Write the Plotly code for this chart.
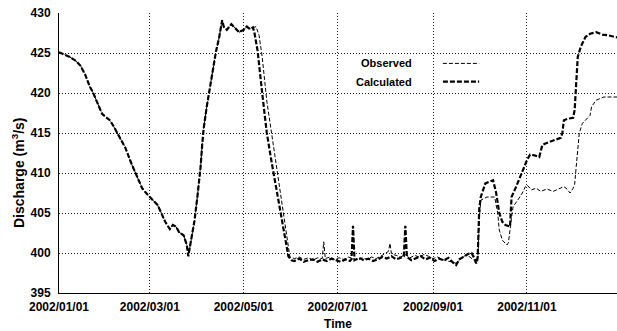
import plotly.graph_objects as go

# ---- data ----
shared_dates = ["2002-01-01", "2002-01-05", "2002-01-08", "2002-01-12", "2002-01-15", "2002-01-18",
                "2002-01-21", "2002-01-23", "2002-01-25", "2002-01-27", "2002-01-29", "2002-02-01",
                "2002-02-03", "2002-02-05", "2002-02-08", "2002-02-11", "2002-02-13", "2002-02-17",
                "2002-02-21", "2002-02-24", "2002-02-27", "2002-03-01", "2002-03-04", "2002-03-06",
                "2002-03-08", "2002-03-11", "2002-03-14", "2002-03-16", "2002-03-18", "2002-03-20",
                "2002-03-23", "2002-03-25", "2002-03-26", "2002-03-27", "2002-03-28", "2002-03-30",
                "2002-04-01", "2002-04-03", "2002-04-04", "2002-04-05", "2002-04-07", "2002-04-09",
                "2002-04-11", "2002-04-13", "2002-04-15", "2002-04-17", "2002-04-18", "2002-04-20",
                "2002-04-23", "2002-04-25", "2002-04-28", "2002-05-01", "2002-05-03", "2002-05-05",
                "2002-05-07"]
shared_vals = [425.1, 424.8, 424.5, 424.0, 423.4, 422.3,
               420.8, 420.1, 419.2, 418.3, 417.4, 416.9,
               416.6, 416.0, 414.9, 413.9, 413.2, 411.2,
               409.3, 408.1, 407.4, 407.0, 406.5, 406.0,
               405.2, 403.9, 403.0, 403.5, 403.3, 402.6,
               402.2, 401.0, 399.6, 400.8, 402.1, 404.0,
               407.2, 410.8, 413.5, 415.6, 418.3, 420.6,
               423.0, 425.2, 426.9, 429.1, 428.3, 427.9,
               428.6, 428.2, 427.6, 427.9, 428.3, 428.0,
               428.2]

obs_tail_dates = ["2002-05-09", "2002-05-11", "2002-05-13", "2002-05-16", "2002-05-19", "2002-05-22",
                  "2002-05-25", "2002-05-28", "2002-05-30", "2002-05-31", "2002-06-03", "2002-06-06",
                  "2002-06-09", "2002-06-12", "2002-06-15", "2002-06-18", "2002-06-21", "2002-06-22",
                  "2002-06-23", "2002-06-26", "2002-06-29", "2002-07-02", "2002-07-05", "2002-07-08",
                  "2002-07-11", "2002-07-14", "2002-07-17", "2002-07-20", "2002-07-23", "2002-07-26",
                  "2002-07-29", "2002-08-01", "2002-08-03", "2002-08-04", "2002-08-05", "2002-08-08",
                  "2002-08-11", "2002-08-14", "2002-08-17", "2002-08-20", "2002-08-23", "2002-08-26",
                  "2002-08-29", "2002-09-01", "2002-09-04", "2002-09-07", "2002-09-10", "2002-09-13",
                  "2002-09-16", "2002-09-19", "2002-09-22", "2002-09-25", "2002-09-28", "2002-09-30",
                  "2002-10-01", "2002-10-02", "2002-10-06", "2002-10-11", "2002-10-13", "2002-10-14",
                  "2002-10-16", "2002-10-19", "2002-10-20", "2002-10-22", "2002-10-23", "2002-10-26",
                  "2002-10-29", "2002-10-31", "2002-11-01", "2002-11-04", "2002-11-07", "2002-11-10",
                  "2002-11-14", "2002-11-18", "2002-11-22", "2002-11-25", "2002-11-27", "2002-11-29",
                  "2002-12-01", "2002-12-02", "2002-12-03", "2002-12-04", "2002-12-05", "2002-12-07",
                  "2002-12-10", "2002-12-12", "2002-12-13", "2002-12-16", "2002-12-21", "2002-12-31"]
obs_tail_vals = [428.3, 427.2, 424.5, 419.0, 415.0, 411.0,
                 407.0, 403.0, 400.5, 399.5, 399.3, 399.5,
                 399.2, 399.4, 399.1, 399.4, 399.3, 401.4,
                 399.3, 399.5, 399.2, 399.4, 399.2, 399.5,
                 399.3, 399.1, 399.4, 399.2, 399.5, 399.3,
                 399.6, 399.9, 400.2, 401.2, 399.9, 399.7,
                 399.5, 399.8, 399.4, 399.7, 399.5, 399.8,
                 399.6, 399.3, 399.5, 399.2, 399.0, 398.9,
                 398.7, 399.3, 399.7, 399.5, 399.0, 398.8,
                 404.0, 406.6, 407.0, 407.0, 405.0, 402.9,
                 401.6, 401.0, 401.3, 404.5, 405.8, 406.6,
                 407.5, 408.3, 408.5, 407.9, 408.1, 407.7,
                 408.0, 407.7, 408.1, 408.3, 408.0, 407.5,
                 408.1, 408.6, 410.8, 413.0, 415.0, 416.2,
                 416.8, 417.2, 418.3, 419.1, 419.5, 419.5]

calc_tail_dates = ["2002-05-08", "2002-05-10", "2002-05-13", "2002-05-16", "2002-05-19", "2002-05-22",
                   "2002-05-25", "2002-05-28", "2002-05-30", "2002-06-01", "2002-06-03", "2002-06-06",
                   "2002-06-09", "2002-06-12", "2002-06-15", "2002-06-18", "2002-06-21", "2002-06-24",
                   "2002-06-27", "2002-06-30", "2002-07-03", "2002-07-06", "2002-07-09", "2002-07-10",
                   "2002-07-11", "2002-07-12", "2002-07-15", "2002-07-18", "2002-07-21", "2002-07-24",
                   "2002-07-27", "2002-07-30", "2002-08-02", "2002-08-05", "2002-08-08", "2002-08-11",
                   "2002-08-13", "2002-08-14", "2002-08-15", "2002-08-18", "2002-08-21", "2002-08-24",
                   "2002-08-27", "2002-08-30", "2002-09-02", "2002-09-05", "2002-09-08", "2002-09-11",
                   "2002-09-14", "2002-09-16", "2002-09-18", "2002-09-21", "2002-09-24", "2002-09-26",
                   "2002-09-28", "2002-09-29", "2002-09-30", "2002-10-01", "2002-10-02", "2002-10-05",
                   "2002-10-08", "2002-10-10", "2002-10-12", "2002-10-14", "2002-10-16", "2002-10-18",
                   "2002-10-21", "2002-10-22", "2002-10-25", "2002-10-28", "2002-10-30", "2002-11-01",
                   "2002-11-03", "2002-11-06", "2002-11-09", "2002-11-11", "2002-11-13", "2002-11-16",
                   "2002-11-20", "2002-11-23", "2002-11-24", "2002-11-25", "2002-11-28", "2002-12-01",
                   "2002-12-02", "2002-12-03", "2002-12-04", "2002-12-06", "2002-12-09", "2002-12-12",
                   "2002-12-16", "2002-12-20", "2002-12-24", "2002-12-28", "2002-12-31"]
calc_tail_vals = [427.5, 425.3, 420.0, 415.0, 411.5, 408.3,
                  405.0, 401.8, 399.6, 399.1, 399.0, 399.3,
                  398.9, 399.1, 399.2, 398.9, 399.2, 399.0,
                  399.3, 399.1, 398.9, 399.2, 399.0, 399.2,
                  403.4, 399.1, 399.4, 399.1, 399.3, 399.0,
                  399.2, 399.5, 399.3, 399.6, 399.2, 399.4,
                  399.6, 403.4, 399.5, 399.1, 399.4, 399.6,
                  399.2, 399.4, 399.0, 399.3, 399.1, 399.4,
                  398.8, 398.5, 399.2, 399.6, 399.9, 400.0,
                  399.3, 398.7, 399.5, 405.5, 407.0, 408.7,
                  408.9, 409.1, 407.5, 405.0, 403.9, 403.5,
                  403.3, 407.0, 408.3, 409.75, 410.6, 411.6,
                  412.3, 412.2, 412.0, 413.5, 413.7, 413.9,
                  414.2, 414.4, 415.0, 416.6, 416.8, 416.9,
                  417.9, 421.6, 424.5, 425.8, 427.0, 427.4,
                  427.6, 427.3, 427.2, 427.0, 426.9]

x_tick_vals = ["2002-01-01", "2002-03-01", "2002-05-01", "2002-07-01", "2002-09-01", "2002-11-01"]
x_tick_text = ["2002/01/01", "2002/03/01", "2002/05/01", "2002/07/01", "2002/09/01", "2002/11/01"]
y_tick_vals = [395, 400, 405, 410, 415, 420, 425, 430]

obs_dates = shared_dates + obs_tail_dates
obs_vals = shared_vals + obs_tail_vals
calc_dates = shared_dates + calc_tail_dates
calc_vals = shared_vals + calc_tail_vals

FONT = "Liberation Sans, Arial, Helvetica, sans-serif"

fig = go.Figure()
fig.add_trace(go.Scatter(x=obs_dates, y=obs_vals, mode="lines", name="Observed",
                         line=dict(color="black", width=1, dash="4px,2px")))
fig.add_trace(go.Scatter(x=calc_dates, y=calc_vals, mode="lines", name="Calculated",
                         line=dict(color="black", width=2.2, dash="5px,2px")))

fig.update_layout(
    width=617, height=331,
    margin=dict(l=59, r=0, t=13, b=38),
    paper_bgcolor="white", plot_bgcolor="white",
    showlegend=False,
    font=dict(family=FONT, size=12, color="black", weight="bold"),
)
fig.update_xaxes(
    type="date", range=["2002-01-01", "2002-12-29 12:00"],
    tickvals=x_tick_vals, ticktext=x_tick_text,
    tickfont=dict(family=FONT, size=12, weight="bold"),
    showgrid=True, gridcolor="#222", gridwidth=1, griddash="1px,2px",
    showline=True, linecolor="black", linewidth=1,
    ticks="", zeroline=False, ticklabelstandoff=3,
    title=dict(text="Time", font=dict(family=FONT, size=12, weight="bold"), standoff=6),
)
fig.update_yaxes(
    range=[395, 430], tickvals=y_tick_vals,
    tickfont=dict(family=FONT, size=12, weight="bold"),
    showgrid=True, gridcolor="#222", gridwidth=1, griddash="1px,2px",
    showline=True, linecolor="black", linewidth=1,
    ticks="", zeroline=False, ticklabelstandoff=5,
)

# y-axis title
fig.add_annotation(text="Discharge (m<sup>3</sup>/s)", xref="paper", yref="paper",
                   x=-0.0735, y=0.432, textangle=-90, showarrow=False,
                   xanchor="center", yanchor="middle",
                   font=dict(family=FONT, size=14, weight="bold"))

# legend (text left of sample, as in reference)
for label, yy, w, dsh in [("Observed", 0.820, 1, "4px,2px"), ("Calculated", 0.755, 2.2, "5px,2px")]:
    fig.add_annotation(text=label, xref="paper", yref="paper", x=0.636, y=yy,
                       xanchor="right", yanchor="middle", showarrow=False,
                       font=dict(family=FONT, size=11, weight="bold"))
    fig.add_shape(type="line", xref="paper", yref="paper", x0=0.688, x1=0.753, y0=yy, y1=yy,
                  line=dict(color="black", width=w, dash=dsh))

fig.write_html("out.html")
